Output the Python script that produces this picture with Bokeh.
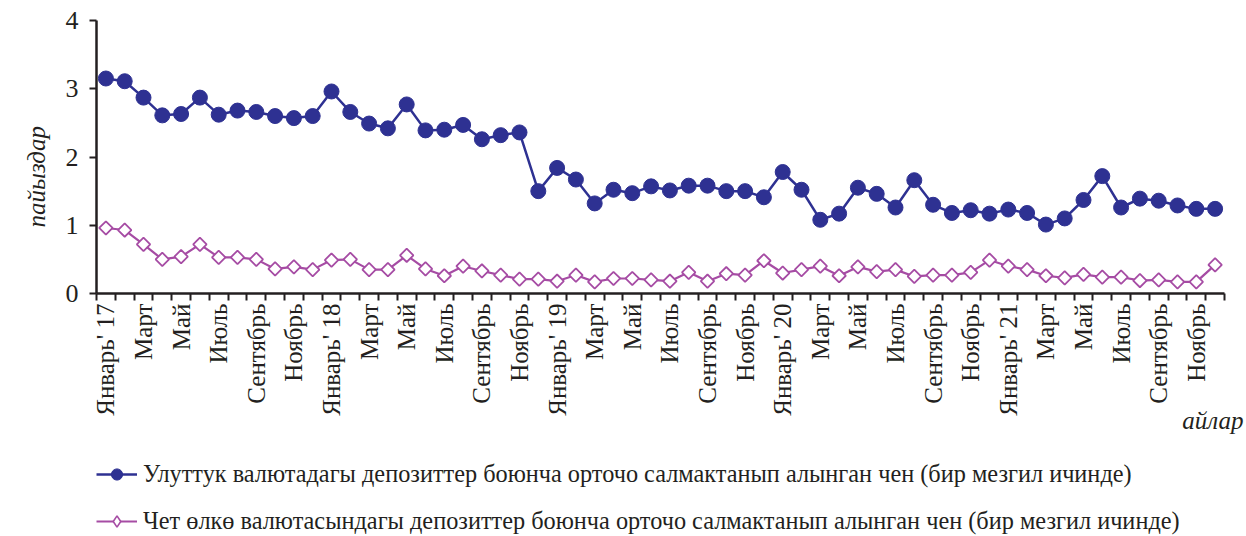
import math
from bokeh.plotting import figure
from bokeh.layouts import column
from bokeh.models import (FixedTicker, Range1d, Legend, LegendItem, Title)
from bokeh.embed import file_html
from bokeh.resources import INLINE

tick_labels = ["Январь' 17", "Март", "Май", "Июль", "Сентябрь", "Ноябрь",
               "Январь' 18", "Март", "Май", "Июль", "Сентябрь", "Ноябрь",
               "Январь' 19", "Март", "Май", "Июль", "Сентябрь", "Ноябрь",
               "Январь' 20", "Март", "Май", "Июль", "Сентябрь", "Ноябрь",
               "Январь' 21", "Март", "Май", "Июль", "Сентябрь", "Ноябрь"]

national = [3.15, 3.11, 2.87, 2.61, 2.63, 2.87, 2.62, 2.68, 2.66, 2.60, 2.57, 2.60,
            2.96, 2.66, 2.49, 2.42, 2.77, 2.39, 2.40, 2.47, 2.26, 2.32, 2.36, 1.50,
            1.84, 1.67, 1.32, 1.52, 1.47, 1.57, 1.51, 1.58, 1.58, 1.50, 1.50, 1.41,
            1.78, 1.52, 1.08, 1.17, 1.55, 1.46, 1.26, 1.66, 1.30, 1.18, 1.22, 1.17,
            1.23, 1.18, 1.01, 1.10, 1.37, 1.72, 1.26, 1.39, 1.36, 1.29, 1.24, 1.24]

foreign = [0.96, 0.93, 0.72, 0.50, 0.54, 0.72, 0.53, 0.53, 0.50, 0.36, 0.39, 0.35,
           0.49, 0.50, 0.35, 0.35, 0.56, 0.36, 0.26, 0.40, 0.33, 0.27, 0.21, 0.21,
           0.18, 0.27, 0.17, 0.22, 0.22, 0.20, 0.18, 0.31, 0.18, 0.29, 0.27, 0.48,
           0.30, 0.35, 0.40, 0.26, 0.39, 0.32, 0.35, 0.25, 0.27, 0.27, 0.31, 0.49,
           0.40, 0.35, 0.26, 0.23, 0.28, 0.24, 0.24, 0.19, 0.20, 0.17, 0.17, 0.42]

legend_national = "Улуттук валютадагы депозиттер боюнча орточо салмактанып алынган чен (бир мезгил ичинде)"
legend_foreign = "Чет өлкө валютасындагы депозиттер боюнча орточо салмактанып алынган чен (бир мезгил ичинде)"
y_title = "пайыздар"
x_title = "айлар"

BLUE = "#2E3192"
PURPLE = "#A64CA4"
INK = "#231F20"
FONT = "Liberation Serif"

n = len(national)
x = list(range(n))

p = figure(width=1246, height=450, output_backend="svg", toolbar_location=None,
           x_range=Range1d(-0.5, n - 0.5), y_range=Range1d(0, 4),
           min_border_left=96, min_border_right=22, min_border_top=20, min_border_bottom=157)
p.outline_line_color = None
p.xgrid.visible = False
p.ygrid.visible = False

# x axis: labels at every 2nd month centre, tick marks at month boundaries
label_pos = list(range(0, n, 2))
p.xaxis.ticker = FixedTicker(ticks=label_pos, minor_ticks=[i - 0.5 for i in range(n + 1)])
p.xaxis.major_label_overrides = {i: tick_labels[k] for k, i in enumerate(label_pos)}
p.xaxis.major_label_orientation = math.pi / 2
p.xaxis.major_tick_line_color = None
p.xaxis.major_tick_out = 7
p.xaxis.major_tick_in = 0
p.xaxis.minor_tick_out = 7
p.xaxis.minor_tick_in = 0
p.xaxis.minor_tick_line_color = INK
p.xaxis.minor_tick_line_width = 2
p.xaxis.axis_line_color = INK
p.xaxis.axis_line_width = 2.5
p.xaxis.major_label_text_font = FONT
p.xaxis.major_label_text_font_size = "25px"
p.xaxis.major_label_text_color = INK
p.xaxis.major_label_standoff = 3

p.yaxis.ticker = FixedTicker(ticks=[0, 1, 2, 3, 4], minor_ticks=[])
p.yaxis.major_tick_out = 7
p.yaxis.major_tick_in = 0
p.yaxis.major_tick_line_width = 2
p.yaxis.major_tick_line_color = INK
p.yaxis.axis_line_color = INK
p.yaxis.axis_line_width = 2.5
p.yaxis.major_label_text_font = FONT
p.yaxis.major_label_text_font_size = "26px"
p.yaxis.major_label_text_color = INK
p.yaxis.major_label_standoff = 11

r1l = p.line(x, national, line_color=BLUE, line_width=2.5)
r1m = p.scatter(x, national, marker="circle", size=15, fill_color=BLUE, line_color=BLUE)
r2l = p.line(x, foreign, line_color=PURPLE, line_width=2.2)
r2m = p.scatter(x, foreign, marker="square", angle=math.pi / 4, size=9.5,
                fill_color="white", line_color=PURPLE, line_width=1.8)

# axis titles
p.add_layout(Title(text=y_title, align="left", vertical_align="top", offset=66, standoff=22,
                   text_font=FONT, text_font_size="25px", text_font_style="italic",
                   text_line_height=1.5, text_color=INK), "left")
p.add_layout(Title(text=x_title, align="right", offset=-19, standoff=-30,
                   text_font=FONT, text_font_size="25px", text_font_style="italic",
                   text_color=INK), "below")

# legend panel underneath
lg = figure(width=1246, height=86, output_backend="svg", toolbar_location=None,
            x_range=Range1d(0, 1246), y_range=Range1d(0, 86),
            x_axis_location=None, y_axis_location=None,
            min_border=0, min_border_left=0, min_border_right=0,
            min_border_top=0, min_border_bottom=0)
lg.grid.visible = False
lg.outline_line_color = None
nan = float("nan")
k1l = lg.line([nan], [nan], line_color=BLUE, line_width=2.5)
k1m = lg.scatter([nan], [nan], marker="circle", size=10, fill_color=BLUE, line_color=BLUE)
k2l = lg.line([nan], [nan], line_color=PURPLE, line_width=2.2)
k2m = lg.scatter([nan], [nan], marker="diamond", size=13,
                 fill_color="white", line_color=PURPLE, line_width=1.6)
legend = Legend(items=[LegendItem(label=legend_national, renderers=[k1l, k1m]),
                       LegendItem(label=legend_foreign, renderers=[k2l, k2m])],
                location=(0, 1), orientation="vertical",
                glyph_width=41, glyph_height=28, label_height=28, spacing=19,
                label_standoff=6, padding=0, margin=0,
                label_text_font=FONT, label_text_font_size="24.3px",
                label_text_color=INK,
                border_line_color=None, background_fill_alpha=0)
lg.add_layout(legend, "center")

layout = column(p, lg, spacing=0)
open("out.html", "w").write(file_html(layout, INLINE))
